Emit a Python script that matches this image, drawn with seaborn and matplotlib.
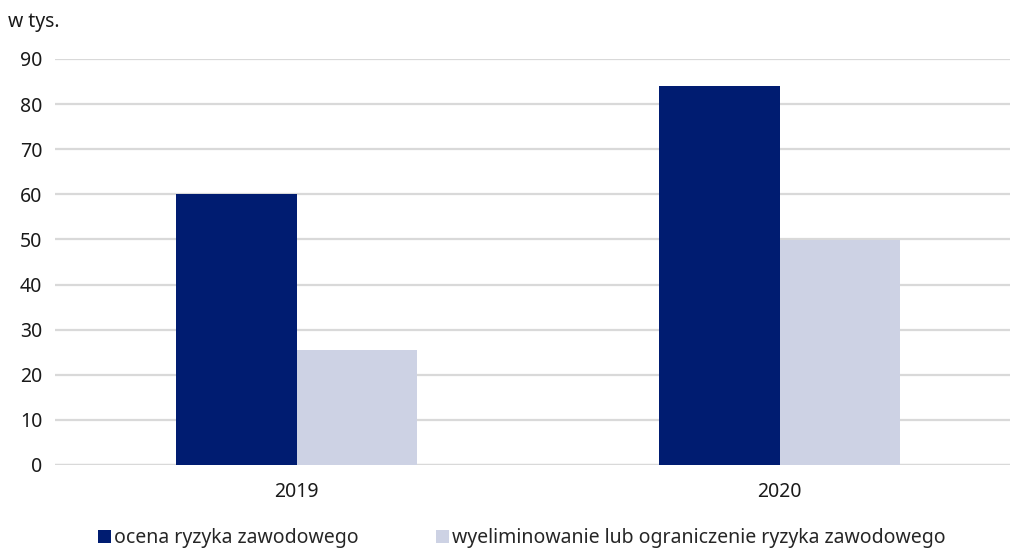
"""Ocena i eliminacja ryzyka zawodowego, 2019-2020 (w tys.)."""

import matplotlib

matplotlib.use("Agg")

import matplotlib.pyplot as plt
import pandas as pd
import seaborn as sns

YEARS = ["2019", "2020"]
SERIES = ["ocena ryzyka zawodowego", "wyeliminowanie lub ograniczenie ryzyka zawodowego"]
OCENA = [60.0, 84.0]
ELIMINACJA = [25.4, 49.9]
COLORS = ["#001C71", "#CDD2E4"]
Y_TICKS = [0, 10, 20, 30, 40, 50, 60, 70, 80, 90]

sns.set_theme(style="white")
plt.rcParams["font.family"] = ["Noto Sans", "DejaVu Sans"]

data = pd.DataFrame(
    {
        "rok": YEARS * 2,
        "seria": [SERIES[0]] * len(YEARS) + [SERIES[1]] * len(YEARS),
        "wartosc": OCENA + ELIMINACJA,
    }
)

W, H = 1010, 549
fig = plt.figure(figsize=(W / 100, H / 100), dpi=100)
ax = fig.add_axes([55 / W, (H - 465) / H, 966 / W, 406 / H])

sns.barplot(
    data=data,
    x="rok",
    y="wartosc",
    hue="seria",
    order=YEARS,
    hue_order=SERIES,
    palette=COLORS,
    width=0.5,
    saturation=1,
    ax=ax,
    zorder=3,
    linewidth=0,
)

ax.set_xlim(-0.5, 1.5)
ax.set_ylim(0, 90)
ax.set_yticks(Y_TICKS)
ax.yaxis.grid(True, color="#D9D9D9", linewidth=1.6, zorder=0)
ax.set_axisbelow(True)
for side in ["top", "right", "left", "bottom"]:
    ax.spines[side].set_visible(False)
ax.axhline(0, color="#D9D9D9", linewidth=1.6, zorder=1)
ax.set_xlabel("")
ax.set_ylabel("")
ax.tick_params(axis="y", length=0, pad=9, labelsize=14, labelcolor="#1A1A1A")
ax.tick_params(axis="x", length=0, pad=12, labelsize=14, labelcolor="#1A1A1A")

handles, labels = ax.get_legend_handles_labels()
ax.get_legend().remove()
fig.legend(
    handles,
    labels,
    loc="center",
    bbox_to_anchor=(522 / W, 1 - 538 / H),
    ncol=2,
    frameon=False,
    fontsize=14,
    handlelength=0.65,
    handleheight=0.65,
    handletextpad=0.15,
    columnspacing=4.0,
)

fig.text(8 / W, 1 - 22 / H, "w tys.", fontsize=14, va="center", ha="left", color="#1A1A1A")

fig.savefig("out.png", dpi=100)
